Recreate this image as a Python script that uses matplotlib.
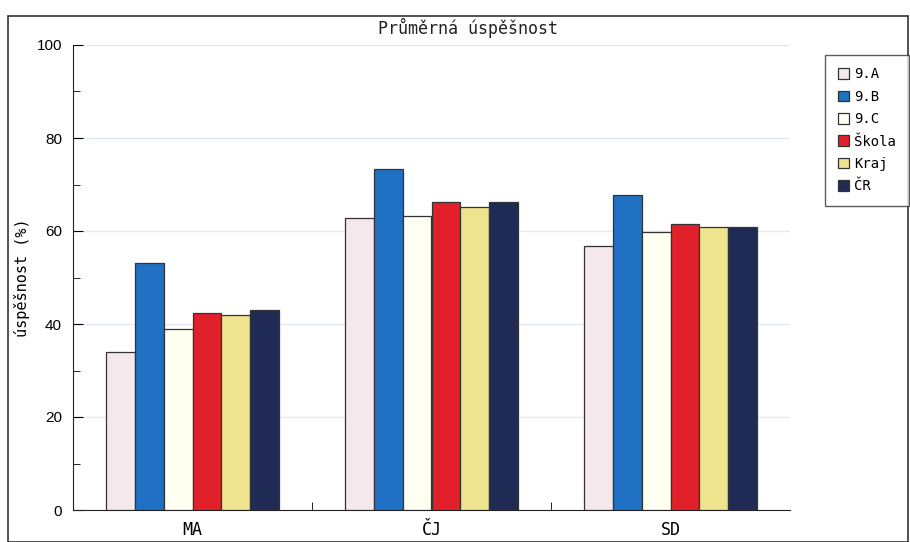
import numpy as np
import matplotlib
matplotlib.use('Agg')
import matplotlib.pyplot as plt
from matplotlib.patches import Rectangle

# data
subjects = ['MA', 'ČJ', 'SD']
groups = ['9.A', '9.B', '9.C', 'Škola', 'Kraj', 'ČR']
val_9a = [34.0, 62.8, 56.8]
val_9b = [53.1, 73.3, 67.7]
val_9c = [38.9, 63.2, 59.8]
val_skola = [42.4, 66.2, 61.5]
val_kraj = [41.9, 65.2, 60.9]
val_cr = [43.0, 66.2, 60.9]
colors = ['#f4e8ec', '#2070c4', '#fffff2', '#e2202c', '#eee38e', '#1f2b55']

series = [val_9a, val_9b, val_9c, val_skola, val_kraj, val_cr]

fig = plt.figure(figsize=(9.1, 5.42), dpi=100)
ax = fig.add_axes([73 / 910, 1 - 510 / 542, (790 - 73) / 910, (510 - 45) / 542])

# outer frame of the original picture
fig.patches.append(Rectangle((8 / 910, 0), 900 / 910, 1 - 16 / 542, transform=fig.transFigure,
                             fill=False, edgecolor='#333333', linewidth=1.2))

x = np.arange(len(subjects))
w = 0.12
for i, (vals, col) in enumerate(zip(series, colors)):
    ax.bar(x + (i - 2.5) * w, vals, width=w, color=col, edgecolor='#333333',
           linewidth=0.9, label=groups[i], zorder=3)

ax.set_xlim(-0.5, 2.5)
ax.set_ylim(0, 100)
ax.set_xticks(x)
ax.set_xticklabels(subjects, family='DejaVu Sans Mono', fontsize=12)
ax.set_xticks([0.5, 1.5], minor=True)
ax.tick_params(axis='x', which='major', length=0, pad=8)
ax.tick_params(axis='x', which='minor', direction='in', length=6)

ax.set_yticks([0, 20, 40, 60, 80, 100])
ax.set_yticks([10, 30, 50, 70, 90], minor=True)
ax.tick_params(axis='y', which='major', direction='in', length=7, labelsize=11, pad=8)
ax.tick_params(axis='y', which='minor', direction='in', length=5)
for t in ax.get_yticklabels():
    t.set_family('Liberation Sans')
ax.yaxis.grid(True, color='#dfeaf4', linewidth=1, zorder=0)

for s in ['top', 'right']:
    ax.spines[s].set_visible(False)
ax.spines['left'].set_color('#222222')
ax.spines['bottom'].set_color('#222222')

ax.set_ylabel('úspěšnost (%)', family='DejaVu Sans Mono', fontsize=11, va='center')
ax.yaxis.set_label_coords((22 - 73) / 717, 0.5)
fig.text(468 / 910, 1 - 28 / 542, 'Průměrná úspěšnost', family='DejaVu Sans Mono',
         fontsize=12, ha='center', va='center', color='#222222')

leg = fig.legend(loc='upper left', bbox_to_anchor=(825 / 910, 1 - 55 / 542),
                 borderaxespad=0,
                 prop={'family': 'DejaVu Sans Mono', 'size': 10}, frameon=True,
                 fancybox=False, edgecolor='#333333', handlelength=0.8, handleheight=0.8,
                 handletextpad=0.4, labelspacing=0.6, borderpad=0.9)
leg.get_frame().set_linewidth(1)

fig.savefig('out.png', dpi=100)
